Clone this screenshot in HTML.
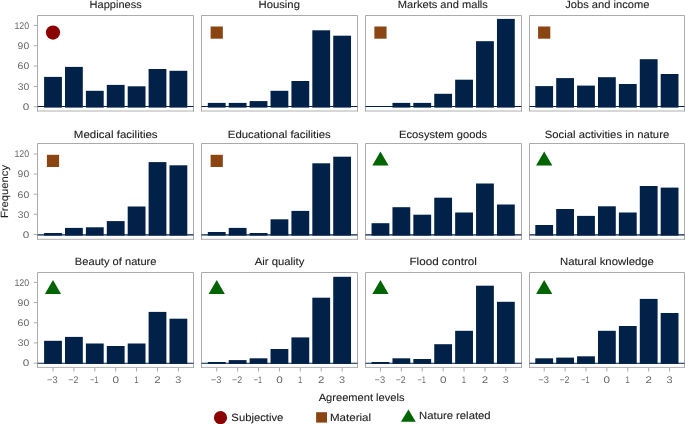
<!DOCTYPE html><html><head><meta charset="utf-8"><style>html,body{margin:0;padding:0;background:#fff;width:685px;height:424px;overflow:hidden}svg{display:block;will-change:transform}text{font-family:"Liberation Sans",sans-serif;text-rendering:geometricPrecision}.t{stroke:#222;stroke-width:0.1}</style></head><body>
<svg width="685" height="424" viewBox="0 0 685 424">
<rect width="685" height="424" fill="#fff"/>
<path d="M37.5 111.5V15.5H193.5V111.5" fill="none" stroke="#ababab" stroke-width="1"/>
<line x1="37.5" x2="193.5" y1="111.0" y2="111.0" stroke="#9c9c9c" stroke-width="0.8"/>
<rect x="44.10" y="76.90" width="17.8" height="30.70" fill="#012148"/>
<rect x="65.00" y="66.90" width="17.8" height="40.70" fill="#012148"/>
<rect x="85.90" y="90.80" width="17.8" height="16.80" fill="#012148"/>
<rect x="106.80" y="84.90" width="17.8" height="22.70" fill="#012148"/>
<rect x="127.70" y="86.30" width="17.8" height="21.30" fill="#012148"/>
<rect x="148.60" y="69.00" width="17.8" height="38.60" fill="#012148"/>
<rect x="169.50" y="70.80" width="17.8" height="36.80" fill="#012148"/>
<line x1="37.5" x2="193.5" y1="106.5" y2="106.5" stroke="#012148" stroke-width="1.15"/>
<circle cx="53.00" cy="32.6" r="7.1" fill="#8b0000"/>
<path d="M201.5 111.5V15.5H357.5V111.5" fill="none" stroke="#ababab" stroke-width="1"/>
<line x1="201.5" x2="357.5" y1="111.0" y2="111.0" stroke="#9c9c9c" stroke-width="0.8"/>
<rect x="207.83" y="102.90" width="17.8" height="4.70" fill="#012148"/>
<rect x="228.73" y="102.90" width="17.8" height="4.70" fill="#012148"/>
<rect x="249.63" y="101.10" width="17.8" height="6.50" fill="#012148"/>
<rect x="270.53" y="90.80" width="17.8" height="16.80" fill="#012148"/>
<rect x="291.43" y="81.00" width="17.8" height="26.60" fill="#012148"/>
<rect x="312.33" y="30.30" width="17.8" height="77.30" fill="#012148"/>
<rect x="333.23" y="35.70" width="17.8" height="71.90" fill="#012148"/>
<line x1="201.5" x2="357.5" y1="106.5" y2="106.5" stroke="#012148" stroke-width="1.15"/>
<rect x="210.63" y="26.50" width="12.2" height="12.2" fill="#8b4513"/>
<path d="M365.5 111.5V15.5H521.5V111.5" fill="none" stroke="#ababab" stroke-width="1"/>
<line x1="365.5" x2="521.5" y1="111.0" y2="111.0" stroke="#9c9c9c" stroke-width="0.8"/>
<rect x="392.46" y="102.90" width="17.8" height="4.70" fill="#012148"/>
<rect x="413.36" y="102.90" width="17.8" height="4.70" fill="#012148"/>
<rect x="434.26" y="93.80" width="17.8" height="13.80" fill="#012148"/>
<rect x="455.16" y="79.70" width="17.8" height="27.90" fill="#012148"/>
<rect x="476.06" y="41.20" width="17.8" height="66.40" fill="#012148"/>
<rect x="496.96" y="18.90" width="17.8" height="88.70" fill="#012148"/>
<line x1="365.5" x2="521.5" y1="106.5" y2="106.5" stroke="#012148" stroke-width="1.15"/>
<rect x="374.36" y="26.50" width="12.2" height="12.2" fill="#8b4513"/>
<path d="M529.5 111.5V15.5H684.5V111.5" fill="none" stroke="#ababab" stroke-width="1"/>
<line x1="529.5" x2="684.5" y1="111.0" y2="111.0" stroke="#9c9c9c" stroke-width="0.8"/>
<rect x="535.29" y="86.10" width="17.8" height="21.50" fill="#012148"/>
<rect x="556.19" y="78.10" width="17.8" height="29.50" fill="#012148"/>
<rect x="577.09" y="85.60" width="17.8" height="22.00" fill="#012148"/>
<rect x="597.99" y="77.20" width="17.8" height="30.40" fill="#012148"/>
<rect x="618.89" y="84.00" width="17.8" height="23.60" fill="#012148"/>
<rect x="639.79" y="59.20" width="17.8" height="48.40" fill="#012148"/>
<rect x="660.69" y="74.00" width="17.8" height="33.60" fill="#012148"/>
<line x1="529.5" x2="684.5" y1="106.5" y2="106.5" stroke="#012148" stroke-width="1.15"/>
<rect x="538.09" y="26.50" width="12.2" height="12.2" fill="#8b4513"/>
<path d="M37.5 239.8V143.5H193.5V239.8" fill="none" stroke="#ababab" stroke-width="1"/>
<line x1="37.5" x2="193.5" y1="239.3" y2="239.3" stroke="#9c9c9c" stroke-width="0.8"/>
<rect x="44.10" y="233.00" width="17.8" height="2.60" fill="#012148"/>
<rect x="65.00" y="227.90" width="17.8" height="7.70" fill="#012148"/>
<rect x="85.90" y="227.30" width="17.8" height="8.30" fill="#012148"/>
<rect x="106.80" y="221.10" width="17.8" height="14.50" fill="#012148"/>
<rect x="127.70" y="206.50" width="17.8" height="29.10" fill="#012148"/>
<rect x="148.60" y="162.10" width="17.8" height="73.50" fill="#012148"/>
<rect x="169.50" y="165.30" width="17.8" height="70.30" fill="#012148"/>
<line x1="37.5" x2="193.5" y1="234.85" y2="234.85" stroke="#012148" stroke-width="1.4"/>
<rect x="46.90" y="154.80" width="12.2" height="12.2" fill="#8b4513"/>
<path d="M201.5 239.8V143.5H357.5V239.8" fill="none" stroke="#ababab" stroke-width="1"/>
<line x1="201.5" x2="357.5" y1="239.3" y2="239.3" stroke="#9c9c9c" stroke-width="0.8"/>
<rect x="207.83" y="232.00" width="17.8" height="3.60" fill="#012148"/>
<rect x="228.73" y="227.90" width="17.8" height="7.70" fill="#012148"/>
<rect x="249.63" y="233.00" width="17.8" height="2.60" fill="#012148"/>
<rect x="270.53" y="219.30" width="17.8" height="16.30" fill="#012148"/>
<rect x="291.43" y="210.90" width="17.8" height="24.70" fill="#012148"/>
<rect x="312.33" y="163.30" width="17.8" height="72.30" fill="#012148"/>
<rect x="333.23" y="156.70" width="17.8" height="78.90" fill="#012148"/>
<line x1="201.5" x2="357.5" y1="234.85" y2="234.85" stroke="#012148" stroke-width="1.4"/>
<rect x="210.63" y="154.80" width="12.2" height="12.2" fill="#8b4513"/>
<path d="M365.5 239.8V143.5H521.5V239.8" fill="none" stroke="#ababab" stroke-width="1"/>
<line x1="365.5" x2="521.5" y1="239.3" y2="239.3" stroke="#9c9c9c" stroke-width="0.8"/>
<rect x="371.56" y="223.20" width="17.8" height="12.40" fill="#012148"/>
<rect x="392.46" y="207.20" width="17.8" height="28.40" fill="#012148"/>
<rect x="413.36" y="214.70" width="17.8" height="20.90" fill="#012148"/>
<rect x="434.26" y="197.70" width="17.8" height="37.90" fill="#012148"/>
<rect x="455.16" y="212.50" width="17.8" height="23.10" fill="#012148"/>
<rect x="476.06" y="183.50" width="17.8" height="52.10" fill="#012148"/>
<rect x="496.96" y="204.50" width="17.8" height="31.10" fill="#012148"/>
<line x1="365.5" x2="521.5" y1="234.85" y2="234.85" stroke="#012148" stroke-width="1.4"/>
<path d="M380.46 151.60L388.56 165.55L372.36 165.55Z" fill="#006400"/>
<path d="M529.5 239.8V143.5H684.5V239.8" fill="none" stroke="#ababab" stroke-width="1"/>
<line x1="529.5" x2="684.5" y1="239.3" y2="239.3" stroke="#9c9c9c" stroke-width="0.8"/>
<rect x="535.29" y="225.00" width="17.8" height="10.60" fill="#012148"/>
<rect x="556.19" y="209.00" width="17.8" height="26.60" fill="#012148"/>
<rect x="577.09" y="215.90" width="17.8" height="19.70" fill="#012148"/>
<rect x="597.99" y="206.30" width="17.8" height="29.30" fill="#012148"/>
<rect x="618.89" y="212.50" width="17.8" height="23.10" fill="#012148"/>
<rect x="639.79" y="186.00" width="17.8" height="49.60" fill="#012148"/>
<rect x="660.69" y="187.60" width="17.8" height="48.00" fill="#012148"/>
<line x1="529.5" x2="684.5" y1="234.85" y2="234.85" stroke="#012148" stroke-width="1.4"/>
<path d="M544.19 151.60L552.29 165.55L536.09 165.55Z" fill="#006400"/>
<path d="M37.5 367.9V272.5H193.5V367.9" fill="none" stroke="#ababab" stroke-width="1"/>
<line x1="37.5" x2="193.5" y1="367.4" y2="367.4" stroke="#9c9c9c" stroke-width="0.8"/>
<rect x="44.10" y="340.80" width="17.8" height="23.05" fill="#012148"/>
<rect x="65.00" y="336.90" width="17.8" height="26.95" fill="#012148"/>
<rect x="85.90" y="343.50" width="17.8" height="20.35" fill="#012148"/>
<rect x="106.80" y="346.00" width="17.8" height="17.85" fill="#012148"/>
<rect x="127.70" y="343.50" width="17.8" height="20.35" fill="#012148"/>
<rect x="148.60" y="311.90" width="17.8" height="51.95" fill="#012148"/>
<rect x="169.50" y="318.70" width="17.8" height="45.15" fill="#012148"/>
<line x1="37.5" x2="193.5" y1="363.25" y2="363.25" stroke="#012148" stroke-width="1.15"/>
<path d="M53.00 280.00L61.10 293.95L44.90 293.95Z" fill="#006400"/>
<path d="M201.5 367.9V272.5H357.5V367.9" fill="none" stroke="#ababab" stroke-width="1"/>
<line x1="201.5" x2="357.5" y1="367.4" y2="367.4" stroke="#9c9c9c" stroke-width="0.8"/>
<rect x="207.83" y="362.00" width="17.8" height="1.85" fill="#012148"/>
<rect x="228.73" y="360.10" width="17.8" height="3.75" fill="#012148"/>
<rect x="249.63" y="358.30" width="17.8" height="5.55" fill="#012148"/>
<rect x="270.53" y="349.00" width="17.8" height="14.85" fill="#012148"/>
<rect x="291.43" y="337.40" width="17.8" height="26.45" fill="#012148"/>
<rect x="312.33" y="297.70" width="17.8" height="66.15" fill="#012148"/>
<rect x="333.23" y="276.80" width="17.8" height="87.05" fill="#012148"/>
<line x1="201.5" x2="357.5" y1="363.25" y2="363.25" stroke="#012148" stroke-width="1.15"/>
<path d="M216.73 280.00L224.83 293.95L208.63 293.95Z" fill="#006400"/>
<path d="M365.5 367.9V272.5H521.5V367.9" fill="none" stroke="#ababab" stroke-width="1"/>
<line x1="365.5" x2="521.5" y1="367.4" y2="367.4" stroke="#9c9c9c" stroke-width="0.8"/>
<rect x="371.56" y="362.00" width="17.8" height="1.85" fill="#012148"/>
<rect x="392.46" y="358.30" width="17.8" height="5.55" fill="#012148"/>
<rect x="413.36" y="359.00" width="17.8" height="4.85" fill="#012148"/>
<rect x="434.26" y="344.20" width="17.8" height="19.65" fill="#012148"/>
<rect x="455.16" y="330.80" width="17.8" height="33.05" fill="#012148"/>
<rect x="476.06" y="285.70" width="17.8" height="78.15" fill="#012148"/>
<rect x="496.96" y="301.80" width="17.8" height="62.05" fill="#012148"/>
<line x1="365.5" x2="521.5" y1="363.25" y2="363.25" stroke="#012148" stroke-width="1.15"/>
<path d="M380.46 280.00L388.56 293.95L372.36 293.95Z" fill="#006400"/>
<path d="M529.5 367.9V272.5H684.5V367.9" fill="none" stroke="#ababab" stroke-width="1"/>
<line x1="529.5" x2="684.5" y1="367.4" y2="367.4" stroke="#9c9c9c" stroke-width="0.8"/>
<rect x="535.29" y="358.30" width="17.8" height="5.55" fill="#012148"/>
<rect x="556.19" y="357.60" width="17.8" height="6.25" fill="#012148"/>
<rect x="577.09" y="356.30" width="17.8" height="7.55" fill="#012148"/>
<rect x="597.99" y="330.80" width="17.8" height="33.05" fill="#012148"/>
<rect x="618.89" y="326.00" width="17.8" height="37.85" fill="#012148"/>
<rect x="639.79" y="298.90" width="17.8" height="64.95" fill="#012148"/>
<rect x="660.69" y="313.00" width="17.8" height="50.85" fill="#012148"/>
<line x1="529.5" x2="684.5" y1="363.25" y2="363.25" stroke="#012148" stroke-width="1.15"/>
<path d="M544.19 280.00L552.29 293.95L536.09 293.95Z" fill="#006400"/>
<text class="t" x="89.60" y="7.9" font-size="10.5" fill="#222" textLength="52.10" lengthAdjust="spacingAndGlyphs">Happiness</text>
<text class="t" x="258.47" y="7.9" font-size="10.5" fill="#222" textLength="41.46" lengthAdjust="spacingAndGlyphs">Housing</text>
<text class="t" x="397.79" y="7.9" font-size="10.5" fill="#222" textLength="90.11" lengthAdjust="spacingAndGlyphs">Markets and malls</text>
<text class="t" x="565.23" y="7.9" font-size="10.5" fill="#222" textLength="84.27" lengthAdjust="spacingAndGlyphs">Jobs and income</text>
<text class="t" x="73.86" y="137.7" font-size="10.5" fill="#222" textLength="83.76" lengthAdjust="spacingAndGlyphs">Medical facilities</text>
<text class="t" x="227.87" y="137.7" font-size="10.5" fill="#222" textLength="102.94" lengthAdjust="spacingAndGlyphs">Educational facilities</text>
<text class="t" x="399.08" y="137.7" font-size="10.5" fill="#222" textLength="88.12" lengthAdjust="spacingAndGlyphs">Ecosystem goods</text>
<text class="t" x="544.79" y="137.7" font-size="10.5" fill="#222" textLength="124.42" lengthAdjust="spacingAndGlyphs">Social activities in nature</text>
<text class="t" x="74.89" y="264.9" font-size="10.5" fill="#222" textLength="81.61" lengthAdjust="spacingAndGlyphs">Beauty of nature</text>
<text class="t" x="254.68" y="264.9" font-size="10.5" fill="#222" textLength="49.74" lengthAdjust="spacingAndGlyphs">Air quality</text>
<text class="t" x="409.44" y="264.9" font-size="10.5" fill="#222" textLength="67.44" lengthAdjust="spacingAndGlyphs">Flood control</text>
<text class="t" x="559.97" y="264.9" font-size="10.5" fill="#222" textLength="93.93" lengthAdjust="spacingAndGlyphs">Natural knowledge</text>
<line x1="33.8" x2="37.5" y1="106.80" y2="106.80" stroke="#ababab" stroke-width="1"/>
<text x="22.74" y="110.1" font-size="9.5" fill="#666" textLength="6.52" lengthAdjust="spacingAndGlyphs">0</text>
<line x1="33.8" x2="37.5" y1="86.45" y2="86.45" stroke="#ababab" stroke-width="1"/>
<text x="17.71" y="89.75" font-size="9.5" fill="#666" textLength="11.50" lengthAdjust="spacingAndGlyphs">30</text>
<line x1="33.8" x2="37.5" y1="66.10" y2="66.10" stroke="#ababab" stroke-width="1"/>
<text x="17.57" y="69.4" font-size="9.5" fill="#666" textLength="11.64" lengthAdjust="spacingAndGlyphs">60</text>
<line x1="33.8" x2="37.5" y1="45.75" y2="45.75" stroke="#ababab" stroke-width="1"/>
<text x="17.61" y="49.05" font-size="9.5" fill="#666" textLength="11.60" lengthAdjust="spacingAndGlyphs">90</text>
<line x1="33.8" x2="37.5" y1="25.40" y2="25.40" stroke="#ababab" stroke-width="1"/>
<text x="14.43" y="28.7" font-size="9.5" fill="#666" textLength="14.72" lengthAdjust="spacingAndGlyphs">120</text>
<line x1="33.8" x2="37.5" y1="234.40" y2="234.40" stroke="#ababab" stroke-width="1"/>
<text x="22.74" y="237.7" font-size="9.5" fill="#666" textLength="6.52" lengthAdjust="spacingAndGlyphs">0</text>
<line x1="33.8" x2="37.5" y1="214.30" y2="214.30" stroke="#ababab" stroke-width="1"/>
<text x="17.71" y="217.6" font-size="9.5" fill="#666" textLength="11.50" lengthAdjust="spacingAndGlyphs">30</text>
<line x1="33.8" x2="37.5" y1="194.20" y2="194.20" stroke="#ababab" stroke-width="1"/>
<text x="17.57" y="197.5" font-size="9.5" fill="#666" textLength="11.64" lengthAdjust="spacingAndGlyphs">60</text>
<line x1="33.8" x2="37.5" y1="174.10" y2="174.10" stroke="#ababab" stroke-width="1"/>
<text x="17.61" y="177.4" font-size="9.5" fill="#666" textLength="11.60" lengthAdjust="spacingAndGlyphs">90</text>
<line x1="33.8" x2="37.5" y1="154.00" y2="154.00" stroke="#ababab" stroke-width="1"/>
<text x="14.43" y="157.3" font-size="9.5" fill="#666" textLength="14.72" lengthAdjust="spacingAndGlyphs">120</text>
<line x1="33.8" x2="37.5" y1="363.10" y2="363.10" stroke="#ababab" stroke-width="1"/>
<text x="22.74" y="366.4" font-size="9.5" fill="#666" textLength="6.52" lengthAdjust="spacingAndGlyphs">0</text>
<line x1="33.8" x2="37.5" y1="342.93" y2="342.93" stroke="#ababab" stroke-width="1"/>
<text x="17.71" y="346.23" font-size="9.5" fill="#666" textLength="11.50" lengthAdjust="spacingAndGlyphs">30</text>
<line x1="33.8" x2="37.5" y1="322.75" y2="322.75" stroke="#ababab" stroke-width="1"/>
<text x="17.57" y="326.05" font-size="9.5" fill="#666" textLength="11.64" lengthAdjust="spacingAndGlyphs">60</text>
<line x1="33.8" x2="37.5" y1="302.57" y2="302.57" stroke="#ababab" stroke-width="1"/>
<text x="17.61" y="305.88" font-size="9.5" fill="#666" textLength="11.60" lengthAdjust="spacingAndGlyphs">90</text>
<line x1="33.8" x2="37.5" y1="282.40" y2="282.40" stroke="#ababab" stroke-width="1"/>
<text x="14.43" y="285.7" font-size="9.5" fill="#666" textLength="14.72" lengthAdjust="spacingAndGlyphs">120</text>
<line x1="53.00" x2="53.00" y1="367.5" y2="371.5" stroke="#ababab" stroke-width="1"/>
<text x="47.04" y="383.0" font-size="9.5" fill="#666" textLength="10.67" lengthAdjust="spacingAndGlyphs">−3</text>
<line x1="73.90" x2="73.90" y1="367.5" y2="371.5" stroke="#ababab" stroke-width="1"/>
<text x="68.32" y="383.0" font-size="9.5" fill="#666" textLength="9.97" lengthAdjust="spacingAndGlyphs">−2</text>
<line x1="94.80" x2="94.80" y1="367.5" y2="371.5" stroke="#ababab" stroke-width="1"/>
<text x="90.04" y="383.0" font-size="9.5" fill="#666" textLength="8.32" lengthAdjust="spacingAndGlyphs">−1</text>
<line x1="115.70" x2="115.70" y1="367.5" y2="371.5" stroke="#ababab" stroke-width="1"/>
<text x="112.44" y="383.0" font-size="9.5" fill="#666" textLength="6.52" lengthAdjust="spacingAndGlyphs">0</text>
<line x1="136.60" x2="136.60" y1="367.5" y2="371.5" stroke="#ababab" stroke-width="1"/>
<text x="134.37" y="383.0" font-size="9.5" fill="#666" textLength="4.26" lengthAdjust="spacingAndGlyphs">1</text>
<line x1="157.50" x2="157.50" y1="367.5" y2="371.5" stroke="#ababab" stroke-width="1"/>
<text x="154.33" y="383.0" font-size="9.5" fill="#666" textLength="6.35" lengthAdjust="spacingAndGlyphs">2</text>
<line x1="178.40" x2="178.40" y1="367.5" y2="371.5" stroke="#ababab" stroke-width="1"/>
<text x="175.38" y="383.0" font-size="9.5" fill="#666" textLength="6.10" lengthAdjust="spacingAndGlyphs">3</text>
<line x1="216.73" x2="216.73" y1="367.5" y2="371.5" stroke="#ababab" stroke-width="1"/>
<text x="210.77" y="383.0" font-size="9.5" fill="#666" textLength="10.67" lengthAdjust="spacingAndGlyphs">−3</text>
<line x1="237.63" x2="237.63" y1="367.5" y2="371.5" stroke="#ababab" stroke-width="1"/>
<text x="232.05" y="383.0" font-size="9.5" fill="#666" textLength="9.97" lengthAdjust="spacingAndGlyphs">−2</text>
<line x1="258.53" x2="258.53" y1="367.5" y2="371.5" stroke="#ababab" stroke-width="1"/>
<text x="253.77" y="383.0" font-size="9.5" fill="#666" textLength="8.32" lengthAdjust="spacingAndGlyphs">−1</text>
<line x1="279.43" x2="279.43" y1="367.5" y2="371.5" stroke="#ababab" stroke-width="1"/>
<text x="276.17" y="383.0" font-size="9.5" fill="#666" textLength="6.52" lengthAdjust="spacingAndGlyphs">0</text>
<line x1="300.33" x2="300.33" y1="367.5" y2="371.5" stroke="#ababab" stroke-width="1"/>
<text x="298.10" y="383.0" font-size="9.5" fill="#666" textLength="4.26" lengthAdjust="spacingAndGlyphs">1</text>
<line x1="321.23" x2="321.23" y1="367.5" y2="371.5" stroke="#ababab" stroke-width="1"/>
<text x="318.06" y="383.0" font-size="9.5" fill="#666" textLength="6.35" lengthAdjust="spacingAndGlyphs">2</text>
<line x1="342.13" x2="342.13" y1="367.5" y2="371.5" stroke="#ababab" stroke-width="1"/>
<text x="339.11" y="383.0" font-size="9.5" fill="#666" textLength="6.10" lengthAdjust="spacingAndGlyphs">3</text>
<line x1="380.46" x2="380.46" y1="367.5" y2="371.5" stroke="#ababab" stroke-width="1"/>
<text x="374.50" y="383.0" font-size="9.5" fill="#666" textLength="10.67" lengthAdjust="spacingAndGlyphs">−3</text>
<line x1="401.36" x2="401.36" y1="367.5" y2="371.5" stroke="#ababab" stroke-width="1"/>
<text x="395.78" y="383.0" font-size="9.5" fill="#666" textLength="9.97" lengthAdjust="spacingAndGlyphs">−2</text>
<line x1="422.26" x2="422.26" y1="367.5" y2="371.5" stroke="#ababab" stroke-width="1"/>
<text x="417.50" y="383.0" font-size="9.5" fill="#666" textLength="8.32" lengthAdjust="spacingAndGlyphs">−1</text>
<line x1="443.16" x2="443.16" y1="367.5" y2="371.5" stroke="#ababab" stroke-width="1"/>
<text x="439.90" y="383.0" font-size="9.5" fill="#666" textLength="6.52" lengthAdjust="spacingAndGlyphs">0</text>
<line x1="464.06" x2="464.06" y1="367.5" y2="371.5" stroke="#ababab" stroke-width="1"/>
<text x="461.83" y="383.0" font-size="9.5" fill="#666" textLength="4.26" lengthAdjust="spacingAndGlyphs">1</text>
<line x1="484.96" x2="484.96" y1="367.5" y2="371.5" stroke="#ababab" stroke-width="1"/>
<text x="481.79" y="383.0" font-size="9.5" fill="#666" textLength="6.35" lengthAdjust="spacingAndGlyphs">2</text>
<line x1="505.86" x2="505.86" y1="367.5" y2="371.5" stroke="#ababab" stroke-width="1"/>
<text x="502.84" y="383.0" font-size="9.5" fill="#666" textLength="6.10" lengthAdjust="spacingAndGlyphs">3</text>
<line x1="544.19" x2="544.19" y1="367.5" y2="371.5" stroke="#ababab" stroke-width="1"/>
<text x="538.23" y="383.0" font-size="9.5" fill="#666" textLength="10.67" lengthAdjust="spacingAndGlyphs">−3</text>
<line x1="565.09" x2="565.09" y1="367.5" y2="371.5" stroke="#ababab" stroke-width="1"/>
<text x="559.51" y="383.0" font-size="9.5" fill="#666" textLength="9.97" lengthAdjust="spacingAndGlyphs">−2</text>
<line x1="585.99" x2="585.99" y1="367.5" y2="371.5" stroke="#ababab" stroke-width="1"/>
<text x="581.23" y="383.0" font-size="9.5" fill="#666" textLength="8.32" lengthAdjust="spacingAndGlyphs">−1</text>
<line x1="606.89" x2="606.89" y1="367.5" y2="371.5" stroke="#ababab" stroke-width="1"/>
<text x="603.63" y="383.0" font-size="9.5" fill="#666" textLength="6.52" lengthAdjust="spacingAndGlyphs">0</text>
<line x1="627.79" x2="627.79" y1="367.5" y2="371.5" stroke="#ababab" stroke-width="1"/>
<text x="625.56" y="383.0" font-size="9.5" fill="#666" textLength="4.26" lengthAdjust="spacingAndGlyphs">1</text>
<line x1="648.69" x2="648.69" y1="367.5" y2="371.5" stroke="#ababab" stroke-width="1"/>
<text x="645.52" y="383.0" font-size="9.5" fill="#666" textLength="6.35" lengthAdjust="spacingAndGlyphs">2</text>
<line x1="669.59" x2="669.59" y1="367.5" y2="371.5" stroke="#ababab" stroke-width="1"/>
<text x="666.57" y="383.0" font-size="9.5" fill="#666" textLength="6.10" lengthAdjust="spacingAndGlyphs">3</text>
<text class="t" x="318.68" y="400.8" font-size="10.5" fill="#222" textLength="85.82" lengthAdjust="spacingAndGlyphs">Agreement levels</text>
<text class="t" transform="translate(7.6 218.02) rotate(-90)" font-size="10.5" fill="#222" textLength="53.04" lengthAdjust="spacingAndGlyphs">Frequency</text>
<circle cx="220.5" cy="417.7" r="6.6" fill="#8b0000"/>
<text class="t" x="231.39" y="420.8" font-size="10.5" fill="#222" textLength="51.91" lengthAdjust="spacingAndGlyphs">Subjective</text>
<rect x="316.1" y="412.2" width="10.9" height="10.4" fill="#8b4513"/>
<text class="t" x="329.95" y="421.0" font-size="10.5" fill="#222" textLength="41.12" lengthAdjust="spacingAndGlyphs">Material</text>
<path d="M408.4 409.5L415.8 421.7L400.9 421.7Z" fill="#006400"/>
<text class="t" x="419.07" y="419.1" font-size="10.5" fill="#222" textLength="71.55" lengthAdjust="spacingAndGlyphs">Nature related</text>
</svg></body></html>
